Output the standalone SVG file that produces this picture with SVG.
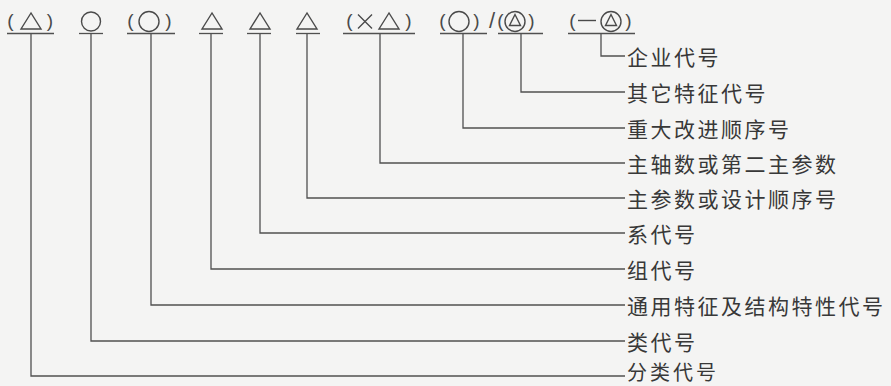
<svg xmlns="http://www.w3.org/2000/svg" width="891" height="386" viewBox="0 0 891 386">
<style>
.ln{fill:none;stroke:#505050;stroke-width:1.3}
.sym{fill:none;stroke:#4a4a4a;stroke-width:1.4;stroke-linejoin:miter}
.par{font-family:"Liberation Sans",sans-serif;font-size:19px;fill:#4a4a4a;text-anchor:middle}
.lbl{font-family:"Noto Sans CJK SC",sans-serif;font-size:21px;letter-spacing:2.5px;fill:#383838;dominant-baseline:central}
</style>
<rect width="891" height="386" fill="#f4f4f3"/>
<g id="n1">
<text class="par" x="10.5" y="27">(</text><polygon class="sym" points="31,13 21,29 41,29"/><text class="par" x="50" y="27">)</text>
<line class="ln" x1="7" y1="33.5" x2="54" y2="33.5"/>
<text class="lbl" x="627" y="371" style="font-size:20px;letter-spacing:3px">分类代号</text>
</g>
<g id="n2">
<circle class="sym" cx="91" cy="21.5" r="9.5"/>
<line class="ln" x1="79" y1="33.5" x2="103" y2="33.5"/>
<text class="lbl" x="627" y="340.5">类代号</text>
</g>
<g id="n3">
<text class="par" x="130.5" y="27">(</text><circle class="sym" cx="149" cy="21.5" r="10"/><text class="par" x="168.5" y="27">)</text>
<line class="ln" x1="127" y1="33.5" x2="175" y2="33.5"/>
<text class="lbl" x="627" y="304.5">通用特征及结构特性代号</text>
</g>
<g id="n4">
<polygon class="sym" points="212,13 202,29 222,29"/>
<line class="ln" x1="199" y1="33.5" x2="223" y2="33.5"/>
<text class="lbl" x="627" y="268.5">组代号</text>
</g>
<g id="n5">
<polygon class="sym" points="260,13 250,29 270,29"/>
<line class="ln" x1="247" y1="33.5" x2="271" y2="33.5"/>
<text class="lbl" x="627" y="232.5">系代号</text>
</g>
<g id="n6">
<polygon class="sym" points="307,13 297,29 317,29"/>
<line class="ln" x1="296" y1="33.5" x2="320" y2="33.5"/>
<text class="lbl" x="627" y="197.5">主参数或设计顺序号</text>
</g>
<g id="n7">
<text class="par" x="349.5" y="27">(</text>
<path class="sym" d="M358,14.5 L372,28.5 M372,14.5 L358,28.5"/>
<polygon class="sym" points="389,13 379,29 399,29"/>
<text class="par" x="408.5" y="27">)</text>
<line class="ln" x1="343" y1="33.5" x2="415" y2="33.5"/>
<text class="lbl" x="627" y="162.5">主轴数或第二主参数</text>
</g>
<g id="n8">
<text class="par" x="442.5" y="27">(</text><circle class="sym" cx="459" cy="21.5" r="10"/><text class="par" x="476.5" y="27">)</text>
<line class="ln" x1="440" y1="33.5" x2="487" y2="33.5"/>
<text class="lbl" x="627" y="127.5">重大改进顺序号</text>
</g>
<text class="par" x="492" y="28" style="font-size:22px">/</text>
<g id="n9">
<text class="par" x="500.5" y="27">(</text><circle class="sym" cx="515" cy="21.5" r="10"/><polygon class="sym" points="515,14.5 509.5,25.5 520.5,25.5"/><text class="par" x="531.5" y="27">)</text>
<line class="ln" x1="498" y1="33.5" x2="543" y2="33.5"/>
<text class="lbl" x="627" y="91.5">其它特征代号</text>
</g>
<g id="n10">
<text class="par" x="572.5" y="27">(</text>
<line class="sym" x1="578" y1="20.5" x2="596" y2="20.5"/>
<circle class="sym" cx="611" cy="21.5" r="10"/><polygon class="sym" points="611,14.5 605.5,25.5 616.5,25.5"/>
<text class="par" x="628.5" y="27">)</text>
<line class="ln" x1="568" y1="33.5" x2="635" y2="33.5"/>
<text class="lbl" x="627" y="55.5">企业代号</text>
</g>
<g id="connectors">
<polyline class="ln" points="31,33.5 31,376 625,376"/>
<polyline class="ln" points="91,33.5 91,341 625,341"/>
<polyline class="ln" points="151,33.5 151,305 625,305"/>
<polyline class="ln" points="211,33.5 211,269 625,269"/>
<polyline class="ln" points="260,33.5 260,233 625,233"/>
<polyline class="ln" points="307,33.5 307,198 625,198"/>
<polyline class="ln" points="380,33.5 380,163 625,163"/>
<polyline class="ln" points="463,33.5 463,128 625,128"/>
<polyline class="ln" points="521,33.5 521,92 625,92"/>
<polyline class="ln" points="601,33.5 601,56 625,56"/>
</g>
</svg>
